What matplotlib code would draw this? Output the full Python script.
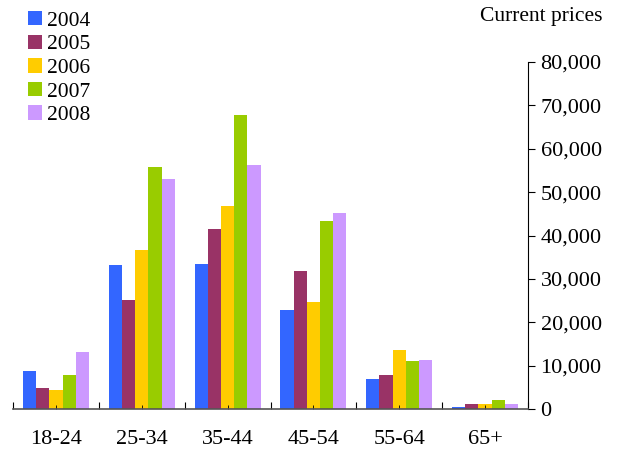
import numpy as np
import matplotlib
matplotlib.use("Agg")
import matplotlib.pyplot as plt
from matplotlib.patches import Patch
from matplotlib.ticker import FuncFormatter

plt.rcParams['font.family'] = ['Liberation Serif', 'DejaVu Serif']

categories = ["18-24", "25-34", "35-44", "45-54", "55-64", "65+"]
years = ["2004", "2005", "2006", "2007", "2008"]
v2004 = [8800, 33200, 33500, 22900, 7000, 400]
v2005 = [4900, 25200, 41500, 31900, 7900, 1200]
v2006 = [4400, 36700, 46800, 24700, 13700, 1200]
v2007 = [7900, 55900, 67800, 43400, 11100, 2100]
v2008 = [13200, 53100, 56300, 45200, 11400, 1200]
colors = ["#3366FF", "#993366", "#FFCC00", "#99CC00", "#CC99FF"]

series = [v2004, v2005, v2006, v2007, v2008]

fig = plt.figure(figsize=(6.17, 4.55), dpi=100)
ax = fig.add_axes([13/617, 46/455, 515/617, 347/455])

x = np.arange(len(categories))
bw = 0.154
for i, (vals, c) in enumerate(zip(series, colors)):
    ax.bar(x + (i - 2) * bw, vals, width=bw, color=c, linewidth=0)

ax.set_xlim(-0.5, len(categories) - 0.5)
ax.set_ylim(0, 80000)

for s in ["top", "left"]:
    ax.spines[s].set_visible(False)
ax.spines["right"].set_color("black")
ax.spines["bottom"].set_color("#555555")
ax.spines["bottom"].set_linewidth(1.2)

ax.yaxis.tick_right()
ax.set_yticks(np.arange(0, 80001, 10000))
ax.yaxis.set_major_formatter(FuncFormatter(lambda v, p: f"{int(v):,}"))
ax.tick_params(axis="y", direction="out", length=5, pad=4, labelsize=16)

ax.set_xticks(np.arange(-0.5, len(categories), 1.0))
ax.set_xticklabels([])
ax.set_xticks(x, minor=True)
ax.set_xticklabels(categories, minor=True)
ax.tick_params(axis="x", which="major", direction="in", length=5)
ax.tick_params(axis="x", which="minor", direction="in", length=3, pad=15, labelsize=16)

fig.text(603/617, 1 - 17/455, "Current prices", ha="right", va="center", fontsize=15.5)

handles = [Patch(facecolor=c, edgecolor="none") for c in colors]
fig.legend(handles, years, loc="upper left", bbox_to_anchor=(28/617, 1 - 11/455),
           frameon=False, fontsize=15.5, handlelength=0.65, handleheight=0.65,
           handletextpad=0.25, labelspacing=0.18, borderaxespad=0, borderpad=0)

fig.savefig("out.png", dpi=100)
